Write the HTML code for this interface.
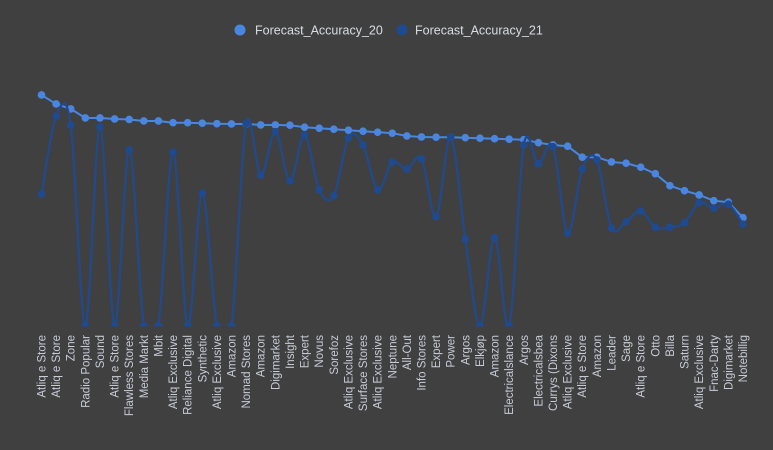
<!DOCTYPE html>
<html><head><meta charset="utf-8"><style>
html,body{margin:0;padding:0;background:#404040;}
svg{display:block;font-family:"Liberation Sans","Noto Sans CJK SC",sans-serif;}
</style></head><body>
<svg id="chart" width="773" height="450">
<defs><clipPath id="pc"><rect x="0" y="0" width="773" height="326.5"/></clipPath></defs>
<rect width="773" height="450" fill="#404040"/>
<g>
<g><circle cx="240" cy="30" r="5.5" fill="#4a86e0"/><text x="255" y="34.5" fill="#d8dce4" font-size="12.5">Forecast_Accuracy_20</text></g>
<g><circle cx="402" cy="30" r="5.5" fill="#1f4a90"/><text x="415" y="34.5" fill="#d8dce4" font-size="12.5">Forecast_Accuracy_21</text></g>
</g>
<g id="labels"></g>
<g id="plot" clip-path="url(#pc)"></g>
</svg>
<script>
const categories = ["Atliq e Store","Atliq e Store","Zone","Radio Popular","Sound","Atliq e Store","Flawless Stores","Media Markt","Mbit","Atliq Exclusive","Reliance Digital","Synthetic","Atliq Exclusive","Amazon","Nomad Stores","Amazon","Digimarket","Insight","Expert","Novus","Sorefoz","Atliq Exclusive","Surface Stores","Atliq Exclusive","Neptune","All-Out","Info Stores","Expert","Power","Argos","Elkjøp","Amazon","Electricalslance","Argos","Electricalsbea","Currys (Dixons","Atliq Exclusive","Atliq e Store","Amazon","Leader","Sage","Atliq e Store","Otto","Billa","Saturn","Atliq Exclusive","Fnac-Darty","Digimarket","Notebillig"];
const fa20 = [92.3,88.7,86.7,83.1,83.1,82.7,82.5,81.9,81.9,81.2,81.2,81.0,80.8,80.7,80.7,80.3,80.3,80.2,79.4,79.0,78.6,78.2,77.8,77.4,77.0,75.9,75.5,75.4,75.4,75.2,75.0,74.8,74.6,74.4,73.2,72.3,71.8,67.4,67.4,65.5,65.0,63.4,60.8,56.0,54.0,52.3,50.0,49.4,43.2];
const fa21 = [52.7,83.8,80.2,0,79.5,0,70.3,0,0,69.4,0,53.0,0,0,80.8,60.2,77.6,57.9,76.3,54.4,52.0,75.2,72.3,54.3,65.4,62.7,66.7,43.6,75.4,34.6,0,35.2,0,72.3,64.7,71.6,37.0,62.6,66.3,39.0,41.6,45.9,39.4,39.4,41.2,49.2,47.0,48.6,40.6];

const NS="http://www.w3.org/2000/svg";
const plot=document.getElementById('plot');
const labels=document.getElementById('labels');
const x0=41.5, x1=743, yBase=325.7, yPer=2.5;
function xScale(i){return x0+i*(x1-x0)/(categories.length-1);}
function yScale(v){return yBase-v*yPer;}
function mk(t,a){const e=document.createElementNS(NS,t);for(const k in a)e.setAttribute(k,a[k]);return e;}

categories.forEach((c,i)=>{
  const x=xScale(i)+4, y=335;
  const t=mk('text',{x:x,y:y,transform:`rotate(-90 ${x} ${y})`,'text-anchor':'end',fill:'#c8ccd8','font-size':'11.5'});
  t.textContent=c;
  
  
  labels.appendChild(t);
});

const p20=fa20.map((v,i)=>[xScale(i),yScale(v)]);
const l20=mk('path',{d:'M'+p20.map(p=>p.join(',')).join('L'),fill:'none',stroke:'#4a86e0','stroke-width':'2'});


plot.appendChild(l20);
p20.forEach(p=>{
  const c=mk('circle',{cx:p[0],cy:p[1],r:'3.8',fill:'#4a86e0'});
  
  
  plot.appendChild(c);
});

const p21=fa21.map((v,i)=>[xScale(i),yScale(v)]);
let d='M'+p21[0].join(',');
for(let i=0;i<p21.length-1;i++){
  const a=p21[Math.max(i-1,0)],b=p21[i],c=p21[i+1],e=p21[Math.min(i+2,p21.length-1)];
  const s=6;
  d+=`C${b[0]+(c[0]-a[0])/s},${b[1]+(c[1]-a[1])/s} ${c[0]-(e[0]-b[0])/s},${c[1]-(e[1]-b[1])/s} ${c[0]},${c[1]}`;
}
const l21=mk('path',{d:d,fill:'none',stroke:'#1f4a90','stroke-width':'2.2'});


plot.appendChild(l21);
p21.forEach(p=>{
  const c=mk('circle',{cx:p[0],cy:p[1],r:'3.8',fill:'#1f4a90'});
  
  
  plot.appendChild(c);
});
</script>
</body></html>
